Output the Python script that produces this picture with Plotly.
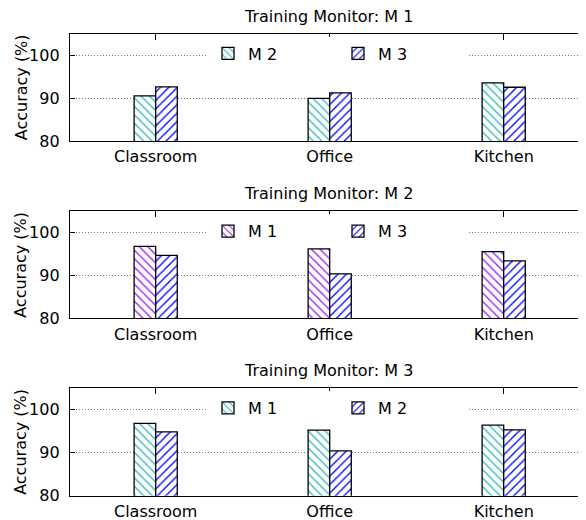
import plotly.graph_objects as go

categories = ["Classroom", "Office", "Kitchen"]
panel_titles = ["Training Monitor: M 1", "Training Monitor: M 2", "Training Monitor: M 3"]

# Panel 1 (trained on M 1)
p1_names = ["M 2", "M 3"]
p1_first = [90.5, 89.9, 93.5]
p1_second = [92.6, 91.2, 92.5]
# Panel 2 (trained on M 2)
p2_names = ["M 1", "M 3"]
p2_first = [96.8, 96.2, 95.6]
p2_second = [94.7, 90.4, 93.4]
# Panel 3 (trained on M 3)
p3_names = ["M 1", "M 2"]
p3_first = [96.8, 95.2, 96.4]
p3_second = [94.8, 90.4, 95.3]

y_ticks = [80, 90, 100]
y_range = [80, 105]

CYAN = "#30b8b8"
PURPLE = "#9a1ef0"
BLUE = "#0000ff"

panels = [
    (p1_names, p1_first, p1_second, CYAN),
    (p2_names, p2_first, p2_second, PURPLE),
    (p3_names, p3_first, p3_second, CYAN),
]

OFF = 8            # default page margin of the html body
W, H = 586 - OFF, 520 - OFF
ML = 70 - OFF
PW = W - ML
# pixel extents (in the final screenshot) of each panel (top, bottom)
panel_px = [(33.5, 141.0), (211.3, 318.3), (388.0, 495.7)]
title_px = [16, 193, 370]


def py(p):
    return 1 - (p - OFF) / H


def pattern(shape, col):
    return dict(shape=shape, fgcolor=col, bgcolor="white", fgopacity=1,
                size=6, solidity=0.22, fillmode="replace")


fig = go.Figure()
BW = 0.124
for i, (names, first, second, col1) in enumerate(panels):
    sfx = "" if i == 0 else str(i + 1)
    leg = "legend" + sfx
    fig.add_trace(go.Bar(
        x=categories, y=first, name=names[0],
        xaxis="x" + sfx, yaxis="y" + sfx, legend=leg,
        width=BW, offset=-BW,
        marker=dict(color="white",
                    line=dict(color="black", width=1.3),
                    pattern=pattern("\\", col1)),
    ))
    fig.add_trace(go.Bar(
        x=categories, y=second, name=names[1],
        xaxis="x" + sfx, yaxis="y" + sfx, legend=leg,
        width=BW, offset=0,
        marker=dict(color="white",
                    line=dict(color="black", width=1.3),
                    pattern=pattern("/", BLUE)),
    ))

layout = dict(
    width=W, height=H,
    margin=dict(l=ML, r=0, t=0, b=0),
    paper_bgcolor="white", plot_bgcolor="white",
    font=dict(family="DejaVu Sans", size=16, color="black"),
    barmode="overlay",
    showlegend=True,
    annotations=[],
)

xr = [-0.4925, 2.473]
for i in range(3):
    sfx = "" if i == 0 else str(i + 1)
    top, bot = panel_px[i]
    layout["xaxis" + sfx] = dict(
        domain=[0, 1], anchor="y" + sfx, type="category",
        categoryorder="array", categoryarray=categories,
        range=xr, showline=True, linecolor="black", linewidth=1.3,
        mirror="ticks", ticks="inside", ticklen=6, tickcolor="black",
        showgrid=False, zeroline=False, automargin=False,
        tickfont=dict(size=16), ticklabelstandoff=1,
    )
    layout["yaxis" + sfx] = dict(
        domain=[py(bot), py(top)], anchor="x" + sfx,
        range=y_range, tickvals=y_ticks,
        showline=True, linecolor="black", linewidth=1.3,
        mirror="ticks", ticks="inside", ticklen=5, tickcolor="black",
        showgrid=True, gridcolor="#7a7a7a", griddash="1px,2px", gridwidth=1,
        zeroline=False, automargin=False,
        tickfont=dict(size=16), ticklabelstandoff=6,
    )
    layout["legend" + sfx] = dict(
        orientation="h", x=0.5 + 10 / PW, xanchor="center",
        y=py(top + 3), yanchor="top",
        bgcolor="white", borderwidth=0,
        entrywidth=85, itemwidth=30,
        font=dict(size=16), traceorder="normal",
    )
    layout["annotations"].append(dict(
        text=panel_titles[i], xref="paper", yref="paper",
        x=0.5, y=py(title_px[i]), xanchor="center", yanchor="middle",
        showarrow=False, font=dict(size=16),
    ))
    layout["annotations"].append(dict(
        text="Accuracy (%)", xref="paper", yref="paper",
        x=(21 - 70) / PW, y=py((top + bot) / 2),
        xanchor="center", yanchor="middle", textangle=-90,
        showarrow=False, font=dict(size=16),
    ))

fig.update_layout(**layout)
fig.write_html("out.html")
